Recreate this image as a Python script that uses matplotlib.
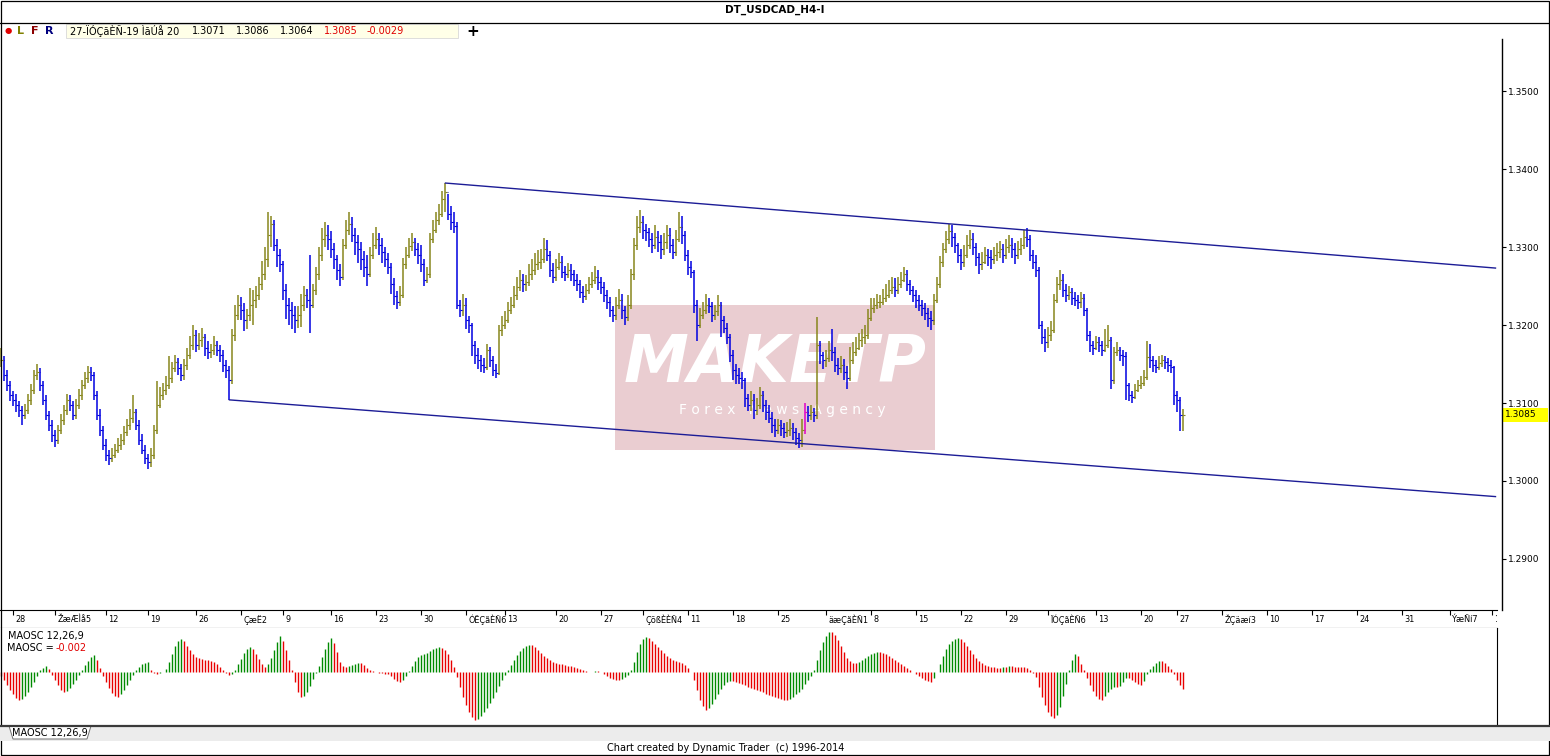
import numpy as np
import matplotlib
matplotlib.use("Agg")
import matplotlib.pyplot as plt
from matplotlib.patches import Rectangle, Polygon
from matplotlib.transforms import blended_transform_factory

W, H = 1550, 756
plt.rcParams["font.family"] = ["DejaVu Sans"]

title = "DT_USDCAD_H4-I"
bar_info = "27-ÏÓÇãÈÑ-19 ÌãÚå 20"
last_ohlc = ["1.3071", "1.3086", "1.3064", "1.3085"]
last_change = "-0.0029"
maosc_name = "MAOSC 12,26,9"
maosc_last = "-0.002"
footer = "Chart created by Dynamic Trader  (c) 1996-2014"

price_ticks = [1.29, 1.30, 1.31, 1.32, 1.33, 1.34, 1.35]
last_price = 1.3085

week_labels = ["28", "ŽæÆÌå5", "12", "19", "26", "ÇæË2", "9", "16", "23", "30",
               "ÓËÇãÈÑ6", "13", "20", "27", "ÇõßÈÈÑ4", "11", "18", "25",
               "äæÇãÈÑ1", "8", "15", "22", "29", "ÏÓÇãÈÑ6", "13", "20", "27",
               "ŽÇäæí3", "10", "17", "24", "31", "ÝæÑí7", "14"]
week_start_bar = [4, 18, 35, 49, 65, 80, 94, 110, 125, 140, 155, 168, 185, 200,
                  214, 229, 244, 259, 275, 290, 305, 320, 335, 349, 365, 380,
                  392, 407, 422, 437, 452, 467, 483, 497]

bar_close = [
    1.3155, 1.3136, 1.3123, 1.3110, 1.3104, 1.3098, 1.3091, 1.3085, 1.3091, 1.3104,
    1.3117, 1.3136, 1.3140, 1.3123, 1.3104, 1.3085, 1.3072, 1.3059, 1.3053, 1.3065,
    1.3078, 1.3091, 1.3104, 1.3098, 1.3085, 1.3098, 1.3110, 1.3123, 1.3132, 1.3140,
    1.3136, 1.3110, 1.3085, 1.3065, 1.3046, 1.3033, 1.3029, 1.3033, 1.3040, 1.3046,
    1.3053, 1.3063, 1.3072, 1.3081, 1.3089, 1.3072, 1.3053, 1.3040, 1.3029, 1.3024,
    1.3033, 1.3065, 1.3098, 1.3110, 1.3117, 1.3123, 1.3132, 1.3145, 1.3153, 1.3145,
    1.3136, 1.3149, 1.3162, 1.3175, 1.3187, 1.3175, 1.3181, 1.3184, 1.3171, 1.3166,
    1.3168, 1.3175, 1.3168, 1.3162, 1.3149, 1.3142, 1.3129, 1.3187, 1.3213, 1.3226,
    1.3219, 1.3206, 1.3213, 1.3226, 1.3232, 1.3239, 1.3252, 1.3265, 1.3284, 1.3316,
    1.3329, 1.3303, 1.3290, 1.3278, 1.3245, 1.3226, 1.3219, 1.3213, 1.3206, 1.3213,
    1.3226, 1.3239, 1.3232, 1.3226, 1.3245, 1.3265, 1.3290, 1.3310, 1.3316, 1.3310,
    1.3297, 1.3284, 1.3271, 1.3262, 1.3303, 1.3322, 1.3329, 1.3316, 1.3306, 1.3297,
    1.3284, 1.3275, 1.3265, 1.3290, 1.3303, 1.3310, 1.3303, 1.3293, 1.3284, 1.3275,
    1.3252, 1.3237, 1.3229, 1.3239, 1.3278, 1.3290, 1.3301, 1.3306, 1.3297, 1.3290,
    1.3278, 1.3258, 1.3265, 1.3310, 1.3322, 1.3335, 1.3342, 1.3361, 1.3370, 1.3342,
    1.3332, 1.3327, 1.3226, 1.3219, 1.3226, 1.3206, 1.3200, 1.3174, 1.3162, 1.3155,
    1.3149, 1.3146, 1.3168, 1.3155, 1.3142, 1.3138, 1.3194, 1.3200, 1.3206, 1.3219,
    1.3226, 1.3239, 1.3249, 1.3258, 1.3252, 1.3255, 1.3265, 1.3271, 1.3278, 1.3281,
    1.3284, 1.3297, 1.3290, 1.3271, 1.3262, 1.3275, 1.3281, 1.3268, 1.3265, 1.3271,
    1.3265, 1.3258, 1.3252, 1.3242, 1.3237, 1.3245, 1.3252, 1.3258, 1.3262, 1.3255,
    1.3249, 1.3239, 1.3229, 1.3219, 1.3213, 1.3226, 1.3232, 1.3219, 1.3210, 1.3226,
    1.3265, 1.3303, 1.3326, 1.3332, 1.3322, 1.3319, 1.3310, 1.3303, 1.3313, 1.3306,
    1.3297, 1.3306, 1.3316, 1.3303, 1.3293, 1.3310, 1.3326, 1.3316, 1.3290, 1.3275,
    1.3268, 1.3226, 1.3200, 1.3213, 1.3219, 1.3226, 1.3224, 1.3213, 1.3218, 1.3226,
    1.3206, 1.3196, 1.3184, 1.3162, 1.3142, 1.3136, 1.3132, 1.3129, 1.3106, 1.3097,
    1.3104, 1.3091, 1.3098, 1.3110, 1.3098, 1.3089, 1.3081, 1.3072, 1.3065, 1.3072,
    1.3068, 1.3063, 1.3065, 1.3068, 1.3063, 1.3055, 1.3053, 1.3065, 1.3088, 1.3085,
    1.3089, 1.3085, 1.3175, 1.3162, 1.3155, 1.3158, 1.3168, 1.3166, 1.3149, 1.3145,
    1.3149, 1.3140, 1.3132, 1.3155, 1.3166, 1.3171, 1.3181, 1.3184, 1.3187, 1.3209,
    1.3222, 1.3226, 1.3229, 1.3230, 1.3235, 1.3239, 1.3245, 1.3249, 1.3245, 1.3252,
    1.3258, 1.3265, 1.3252, 1.3245, 1.3239, 1.3232, 1.3226, 1.3222, 1.3216, 1.3209,
    1.3206, 1.3232, 1.3252, 1.3281, 1.3297, 1.3310, 1.3320, 1.3313, 1.3303, 1.3290,
    1.3281, 1.3290, 1.3303, 1.3310, 1.3300, 1.3287, 1.3278, 1.3281, 1.3290, 1.3287,
    1.3284, 1.3290, 1.3294, 1.3297, 1.3290, 1.3300, 1.3303, 1.3297, 1.3290, 1.3297,
    1.3303, 1.3313, 1.3310, 1.3290, 1.3281, 1.3271, 1.3200, 1.3184, 1.3178, 1.3187,
    1.3194, 1.3232, 1.3252, 1.3258, 1.3245, 1.3239, 1.3242, 1.3235, 1.3232, 1.3229,
    1.3235, 1.3219, 1.3187, 1.3175, 1.3171, 1.3178, 1.3175, 1.3168, 1.3175, 1.3181,
    1.3130, 1.3165, 1.3168, 1.3162, 1.3160, 1.3123, 1.3110, 1.3108, 1.3117, 1.3123,
    1.3126, 1.3133, 1.3159, 1.3155, 1.3149, 1.3146, 1.3151, 1.3155, 1.3153, 1.3149,
    1.3146, 1.3110, 1.3104, 1.3085, 1.3085,
]

bar_high = [
    1.3170, 1.3160, 1.3142, 1.3128, 1.3116, 1.3112, 1.3102, 1.3096, 1.3099, 1.3112,
    1.3124, 1.3142, 1.3150, 1.3145, 1.3128, 1.3110, 1.3090, 1.3078, 1.3065, 1.3072,
    1.3086, 1.3098, 1.3112, 1.3110, 1.3102, 1.3105, 1.3118, 1.3130, 1.3140, 1.3148,
    1.3146, 1.3140, 1.3115, 1.3092, 1.3070, 1.3054, 1.3040, 1.3042, 1.3048, 1.3055,
    1.3060, 1.3070, 1.3080, 1.3092, 1.3110, 1.3092, 1.3078, 1.3060, 1.3046, 1.3034,
    1.3042, 1.3072, 1.3128, 1.3120, 1.3126, 1.3135, 1.3160, 1.3152, 1.3162, 1.3158,
    1.3150, 1.3156, 1.3170, 1.3186, 1.3200, 1.3194, 1.3190, 1.3196, 1.3188, 1.3180,
    1.3176, 1.3186, 1.3180, 1.3175, 1.3168, 1.3155, 1.3148, 1.3195, 1.3226, 1.3238,
    1.3236, 1.3228, 1.3220, 1.3248, 1.3245, 1.3250, 1.3262, 1.3282, 1.3300, 1.3345,
    1.3340, 1.3335, 1.3310, 1.3298, 1.3282, 1.3252, 1.3235, 1.3230, 1.3224, 1.3225,
    1.3240, 1.3250, 1.3246, 1.3290, 1.3252, 1.3275, 1.3300, 1.3325, 1.3332, 1.3328,
    1.3320, 1.3305, 1.3290, 1.3278, 1.3310, 1.3335, 1.3345, 1.3338, 1.3325, 1.3316,
    1.3306, 1.3295, 1.3290, 1.3300, 1.3318, 1.3326, 1.3318, 1.3312, 1.3300, 1.3292,
    1.3280, 1.3260, 1.3244, 1.3250, 1.3286, 1.3300, 1.3312, 1.3318, 1.3312, 1.3305,
    1.3302, 1.3284, 1.3275, 1.3318, 1.3335, 1.3345, 1.3355, 1.3372, 1.3382, 1.3368,
    1.3352, 1.3345, 1.3332, 1.3232, 1.3240, 1.3235, 1.3212, 1.3202, 1.3180, 1.3170,
    1.3162, 1.3158, 1.3176, 1.3172, 1.3160, 1.3150, 1.3200, 1.3212, 1.3218, 1.3230,
    1.3236, 1.3250, 1.3262, 1.3270, 1.3266, 1.3264, 1.3278, 1.3285, 1.3292, 1.3296,
    1.3298, 1.3312, 1.3309, 1.3295, 1.3280, 1.3284, 1.3292, 1.3288, 1.3276, 1.3280,
    1.3278, 1.3270, 1.3265, 1.3258, 1.3250, 1.3252, 1.3262, 1.3268, 1.3276, 1.3270,
    1.3262, 1.3255, 1.3245, 1.3236, 1.3225, 1.3236, 1.3246, 1.3240, 1.3225, 1.3238,
    1.3272, 1.3312, 1.3340, 1.3348, 1.3340, 1.3330, 1.3325, 1.3318, 1.3328, 1.3320,
    1.3315, 1.3318, 1.3328, 1.3325, 1.3310, 1.3322, 1.3345, 1.3340, 1.3320, 1.3296,
    1.3282, 1.3270, 1.3232, 1.3222, 1.3230, 1.3240, 1.3234, 1.3230, 1.3226, 1.3238,
    1.3230, 1.3212, 1.3202, 1.3188, 1.3168, 1.3150, 1.3145, 1.3140, 1.3132, 1.3112,
    1.3115, 1.3112, 1.3106, 1.3120, 1.3116, 1.3104, 1.3098, 1.3088, 1.3080, 1.3080,
    1.3078, 1.3075, 1.3076, 1.3080, 1.3075, 1.3068, 1.3062, 1.3080, 1.3100, 1.3096,
    1.3098, 1.3094, 1.3210, 1.3180, 1.3166, 1.3168, 1.3180, 1.3195, 1.3172, 1.3158,
    1.3160, 1.3156, 1.3148, 1.3172, 1.3178, 1.3185, 1.3190, 1.3195, 1.3200, 1.3220,
    1.3235, 1.3234, 1.3240, 1.3238, 1.3246, 1.3252, 1.3258, 1.3262, 1.3260, 1.3262,
    1.3268, 1.3275, 1.3270, 1.3258, 1.3250, 1.3245, 1.3238, 1.3232, 1.3228, 1.3222,
    1.3218, 1.3240, 1.3262, 1.3288, 1.3305, 1.3320, 1.3330, 1.3328, 1.3318, 1.3305,
    1.3298, 1.3302, 1.3315, 1.3322, 1.3318, 1.3305, 1.3292, 1.3294, 1.3300, 1.3298,
    1.3296, 1.3300, 1.3305, 1.3308, 1.3304, 1.3310, 1.3315, 1.3312, 1.3305, 1.3308,
    1.3312, 1.3322, 1.3325, 1.3315, 1.3296, 1.3290, 1.3275, 1.3205, 1.3195, 1.3198,
    1.3205, 1.3240, 1.3262, 1.3270, 1.3265, 1.3252, 1.3250, 1.3248, 1.3242, 1.3238,
    1.3242, 1.3240, 1.3222, 1.3192, 1.3180, 1.3186, 1.3184, 1.3180, 1.3195, 1.3200,
    1.3185, 1.3172, 1.3178, 1.3172, 1.3168, 1.3165, 1.3126, 1.3115, 1.3125, 1.3130,
    1.3135, 1.3142, 1.3180, 1.3176, 1.3160, 1.3155, 1.3160, 1.3162, 1.3160, 1.3158,
    1.3155, 1.3148, 1.3115, 1.3108, 1.3092,
]

bar_low = [
    1.3146, 1.3128, 1.3115, 1.3102, 1.3096, 1.3088, 1.3082, 1.3072, 1.3080, 1.3086,
    1.3098, 1.3112, 1.3130, 1.3116, 1.3098, 1.3078, 1.3064, 1.3050, 1.3044, 1.3048,
    1.3060, 1.3072, 1.3085, 1.3090, 1.3078, 1.3080, 1.3092, 1.3104, 1.3118, 1.3126,
    1.3128, 1.3104, 1.3078, 1.3058, 1.3040, 1.3026, 1.3020, 1.3024, 1.3030, 1.3036,
    1.3040, 1.3046, 1.3058, 1.3066, 1.3075, 1.3065, 1.3046, 1.3034, 1.3022, 1.3016,
    1.3018, 1.3028, 1.3060, 1.3094, 1.3104, 1.3110, 1.3118, 1.3126, 1.3140, 1.3136,
    1.3128, 1.3130, 1.3142, 1.3156, 1.3168, 1.3166, 1.3168, 1.3172, 1.3160, 1.3156,
    1.3158, 1.3162, 1.3160, 1.3152, 1.3140, 1.3132, 1.3104, 1.3125, 1.3180, 1.3206,
    1.3206, 1.3192, 1.3195, 1.3205, 1.3200, 1.3222, 1.3232, 1.3245, 1.3258, 1.3275,
    1.3300, 1.3295, 1.3275, 1.3268, 1.3232, 1.3208, 1.3200, 1.3195, 1.3190, 1.3196,
    1.3198, 1.3218, 1.3222, 1.3190, 1.3222, 1.3238, 1.3258, 1.3282, 1.3300, 1.3296,
    1.3286, 1.3272, 1.3258, 1.3250, 1.3258, 1.3298, 1.3316, 1.3306, 1.3290, 1.3280,
    1.3270, 1.3262, 1.3250, 1.3262, 1.3285, 1.3298, 1.3290, 1.3280, 1.3274, 1.3266,
    1.3240, 1.3226, 1.3220, 1.3225, 1.3235, 1.3272, 1.3286, 1.3295, 1.3288, 1.3278,
    1.3268, 1.3250, 1.3254, 1.3260, 1.3305, 1.3318, 1.3328, 1.3338, 1.3345, 1.3334,
    1.3322, 1.3318, 1.3220, 1.3210, 1.3212, 1.3195, 1.3190, 1.3160, 1.3150, 1.3144,
    1.3140, 1.3138, 1.3142, 1.3146, 1.3135, 1.3132, 1.3136, 1.3186, 1.3195, 1.3202,
    1.3214, 1.3222, 1.3232, 1.3244, 1.3242, 1.3244, 1.3250, 1.3258, 1.3264, 1.3270,
    1.3272, 1.3280, 1.3282, 1.3262, 1.3254, 1.3256, 1.3270, 1.3260, 1.3256, 1.3260,
    1.3256, 1.3250, 1.3244, 1.3234, 1.3228, 1.3232, 1.3240, 1.3248, 1.3252, 1.3245,
    1.3240, 1.3230, 1.3220, 1.3210, 1.3204, 1.3206, 1.3220, 1.3208, 1.3200, 1.3205,
    1.3220, 1.3258, 1.3296, 1.3318, 1.3310, 1.3308, 1.3300, 1.3292, 1.3298, 1.3294,
    1.3285, 1.3290, 1.3298, 1.3292, 1.3284, 1.3288, 1.3306, 1.3304, 1.3282, 1.3264,
    1.3260, 1.3215, 1.3180, 1.3196, 1.3208, 1.3214, 1.3215, 1.3204, 1.3206, 1.3212,
    1.3185, 1.3190, 1.3176, 1.3152, 1.3130, 1.3124, 1.3124, 1.3118, 1.3095, 1.3090,
    1.3090, 1.3080, 1.3084, 1.3092, 1.3088, 1.3078, 1.3075, 1.3062, 1.3056, 1.3060,
    1.3058, 1.3055, 1.3056, 1.3058, 1.3052, 1.3046, 1.3042, 1.3044, 1.3060, 1.3076,
    1.3078, 1.3076, 1.3080, 1.3150, 1.3144, 1.3146, 1.3152, 1.3154, 1.3140, 1.3136,
    1.3138, 1.3130, 1.3118, 1.3128, 1.3150, 1.3160, 1.3168, 1.3172, 1.3176, 1.3182,
    1.3205, 1.3215, 1.3220, 1.3222, 1.3226, 1.3230, 1.3235, 1.3240, 1.3236, 1.3240,
    1.3248, 1.3255, 1.3244, 1.3238, 1.3230, 1.3222, 1.3218, 1.3212, 1.3206, 1.3198,
    1.3194, 1.3200, 1.3228, 1.3248, 1.3275, 1.3292, 1.3304, 1.3300, 1.3292, 1.3280,
    1.3270, 1.3275, 1.3286, 1.3298, 1.3290, 1.3276, 1.3266, 1.3270, 1.3278, 1.3276,
    1.3272, 1.3278, 1.3282, 1.3286, 1.3280, 1.3285, 1.3292, 1.3286, 1.3278, 1.3284,
    1.3290, 1.3298, 1.3300, 1.3282, 1.3272, 1.3262, 1.3195, 1.3176, 1.3165, 1.3170,
    1.3180, 1.3190, 1.3228, 1.3245, 1.3236, 1.3230, 1.3232, 1.3226, 1.3224, 1.3220,
    1.3222, 1.3212, 1.3180, 1.3166, 1.3162, 1.3168, 1.3166, 1.3160, 1.3165, 1.3170,
    1.3118, 1.3125, 1.3160, 1.3154, 1.3148, 1.3104, 1.3102, 1.3100, 1.3105, 1.3114,
    1.3118, 1.3122, 1.3130, 1.3145, 1.3140, 1.3138, 1.3142, 1.3146, 1.3144, 1.3140,
    1.3138, 1.3098, 1.3088, 1.3064, 1.3064,
]

# MA oscillator, in pips (0.0001)
maosc_pips = [
    -4, -8, -13, -18, -22, -26, -28, -27, -24, -20,
    -15, -10, -4, 2, 4, 6, 3, -3, -8, -13,
    -18, -20, -19, -16, -12, -8, -3, 2, 7, 11,
    15, 17, 12, 4, -4, -10, -16, -21, -24, -25,
    -22, -18, -13, -8, -3, 2, 5, 8, 9, 10,
    2, -1, -2, -1, 0, 3, 10, 18, 26, 31,
    33, 31, 26, 22, 18, 15, 14, 13, 12, 12,
    11, 10, 8, 5, 2, -1, -3, -2, 2, 8,
    13, 19, 23, 25, 23, 18, 13, 8, 5, 8,
    14, 22, 30, 36, 31, 22, 12, 2, -10, -20,
    -25, -24, -20, -14, -7, -1, 6, 15, 23, 30,
    34, 29, 20, 10, 6, 5, 6, 7, 8, 9,
    9, 7, 4, 2, 1, 0, -1, -1, -2, -2,
    -4, -7, -9, -10, -8, -4, 1, 6, 11, 15,
    17, 18, 19, 21, 23, 24, 25, 24, 22, 18,
    12, 5, -5, -15, -25, -33, -40, -45, -48, -47,
    -44, -40, -36, -31, -26, -20, -14, -8, -3, 2,
    7, 12, 17, 21, 24, 26, 27, 27, 25, 22,
    19, 16, 14, 12, 10, 9, 8, 8, 7, 6,
    6, 5, 4, 3, 2, 1, 0, 0, 1, 1,
    0, -2, -4, -6, -7, -8, -8, -7, -5, -3,
    2, 10, 20, 28, 33, 35, 34, 31, 28, 25,
    22, 19, 16, 14, 12, 11, 10, 9, 7, 4,
    0, -8, -18, -28, -34, -38, -36, -32, -27, -22,
    -17, -13, -10, -9, -9, -10, -11, -12, -13, -15,
    -16, -17, -18, -19, -20, -22, -23, -24, -25, -26,
    -27, -28, -28, -27, -25, -22, -20, -17, -12, -8,
    -4, 2, 12, 22, 30, 36, 40, 40, 37, 32,
    26, 20, 14, 11, 9, 9, 10, 12, 14, 16,
    18, 19, 20, 20, 19, 18, 16, 14, 12, 10,
    8, 6, 4, 2, 0, -2, -4, -6, -8, -9,
    -10, -6, 0, 8, 16, 23, 28, 31, 33, 34,
    33, 30, 26, 22, 18, 14, 11, 9, 7, 6,
    5, 5, 4, 4, 5, 5, 6, 6, 5, 5,
    5, 5, 4, 2, -1, -5, -15, -25, -33, -40,
    -44, -46, -43, -35, -24, -12, 2, 12, 18, 16,
    8, 2, -6, -13, -19, -24, -27, -28, -24, -20,
    -17, -15, -15, -14, -10, -6, -6, -8, -10, -12,
    -13, -9, -2, 3, 6, 9, 11, 11, 9, 6,
    3, -2, -8, -13, -17,
]

highlight_bar = 268

upper_channel_bar = [148, 498]
upper_channel_price = [1.3382, 1.3273]
lower_channel_bar = [76, 498]
lower_channel_price = [1.3104, 1.2980]


def px_axes(fig, x0, y0, x1, y1, z):
    # axes placed by pixel box (top-left origin)
    return fig.add_axes([x0 / W, 1 - y1 / H, (x1 - x0) / W, (y1 - y0) / H], zorder=z)


fig = plt.figure(figsize=(W / 100, H / 100), dpi=100)
fig.patch.set_facecolor("white")

# watermark underneath the bars
back = px_axes(fig, 0, 0, W, H, 0)
back.set_xlim(0, W)
back.set_ylim(H, 0)
back.axis("off")
back.add_patch(Rectangle((615, 305), 320, 145, fc="#eacdd1", ec="none"))
back.text(775, 364, "MAKETP", color="white", fontsize=47, fontweight="bold",
          fontstyle="italic", family=["Liberation Sans Narrow", "DejaVu Sans"],
          ha="center", va="center")
back.text(782, 410, "F o r e x   N e w s   A g e n c y", color="white",
          fontsize=10, ha="center", va="center")

# price panel
ax = px_axes(fig, 0, 39, 1502, 610, 1)
ax.patch.set_alpha(0)
idx = np.arange(len(bar_close))
bar_open = [bar_close[0]] + bar_close[:-1]
colors = []
for i in idx:
    if i == highlight_bar:
        colors.append("#e000c8")
    elif bar_close[i] >= bar_open[i]:
        colors.append("#87861c")
    else:
        colors.append("#0000e0")
ax.vlines(idx, bar_low, bar_high, colors=colors, lw=1.1)
ax.hlines(bar_open, idx - 0.6, idx, colors=colors, lw=0.8)
ax.hlines(bar_close, idx, idx + 0.6, colors=colors, lw=0.8)
ax.plot(upper_channel_bar, upper_channel_price, color="#1c1c96", lw=1.0)
ax.plot(lower_channel_bar, lower_channel_price, color="#1c1c96", lw=1.0)

ax.set_xlim(-0.5, 500.17)
ax.set_ylim(1.28346, 1.35667)
ax.set_xticks([])
ax.yaxis.tick_right()
ax.set_yticks(price_ticks)
ax.set_yticklabels([f"{p:.4f}" for p in price_ticks])
ax.tick_params(axis="y", direction="out", length=3, width=0.8, pad=1.5,
               labelsize=6.5, colors="black")
for side in ["left", "top", "bottom"]:
    ax.spines[side].set_visible(False)
ax.spines["right"].set_linewidth(1.0)

blend = blended_transform_factory(ax.transAxes, ax.transData)
ax.add_patch(Rectangle((1.0, last_price - 0.0009), 46 / 1502, 0.0018,
                       transform=blend, fc="#ffff00", ec="none", clip_on=False))
ax.text(1.0 + 3 / 1502, last_price, f"{last_price:.4f}", transform=blend,
        fontsize=6.5, va="center", ha="left", clip_on=False)

# date strip
strip = px_axes(fig, 0, 610, 1497, 628, 2)
strip.set_xlim(-0.5, 498.5)
strip.set_ylim(18, 0)
strip.set_xticks([])
strip.set_yticks([])
strip.spines["left"].set_visible(False)
strip.spines["right"].set_visible(False)
strip.vlines(week_start_bar, 0, 5, color="black", lw=0.8)
for b, lab in zip(week_start_bar, week_labels):
    strip.text(b + 0.6, 10, lab, fontsize=5.9, va="center", ha="left", clip_on=True)

# oscillator panel
osc = px_axes(fig, 0, 628, 1497, 725, 2)
osc.set_xlim(-0.5, 498.5)
osc.set_ylim(-53, 44)
osc_colors = []
for i in idx:
    prev = maosc_pips[i - 1] if i > 0 else maosc_pips[0]
    osc_colors.append("#008a00" if maosc_pips[i] > prev else "#e80000")
osc.vlines(idx, 0, maosc_pips, colors=osc_colors, lw=1.0)
osc.set_xticks([])
osc.set_yticks([])
osc.spines["left"].set_visible(False)
osc.spines["top"].set_visible(False)
osc.spines["bottom"].set_visible(False)

# window chrome
ov = px_axes(fig, 0, 0, W, H, 5)
ov.set_xlim(0, W)
ov.set_ylim(H, 0)
ov.axis("off")
ov.add_patch(Rectangle((0.5, 0.5), W - 1.5, H - 1.5, fill=False, ec="black", lw=0.9))
ov.plot([0, W], [22.5, 22.5], color="black", lw=0.9)
ov.text(775, 10, title, fontsize=7.5, fontweight="bold", ha="center", va="center")

ov.text(8, 31, "●", color="#e00000", fontsize=6, ha="center", va="center")
ov.text(21, 31, "L", color="#808000", fontsize=8, fontweight="bold", ha="center", va="center")
ov.text(35, 31, "F", color="#8b0000", fontsize=8, fontweight="bold", ha="center", va="center")
ov.text(49, 31, "R", color="#00007f", fontsize=8, fontweight="bold", ha="center", va="center")
ov.add_patch(Rectangle((66, 24), 392, 14, fc="#ffffe8", ec="#d8d8d8", lw=0.6))
ov.text(70, 31, bar_info, fontsize=7, va="center", ha="left")
for xp, val in zip([192, 236, 280], last_ohlc[:3]):
    ov.text(xp, 31, val, fontsize=7, va="center", ha="left")
ov.text(324, 31, last_ohlc[3], fontsize=7, va="center", ha="left", color="#e00000")
ov.text(367, 31, last_change, fontsize=7, va="center", ha="left", color="#e00000")
ov.text(473, 31, "+", fontsize=11, fontweight="bold", va="center", ha="center")

ov.text(8, 636, maosc_name, fontsize=7, va="center", ha="left")
ov.text(7, 648, "MAOSC =", fontsize=7, va="center", ha="left")
ov.text(56, 648, maosc_last, fontsize=7, va="center", ha="left", color="#e00000")

ov.add_patch(Rectangle((0, 726), W, 15, fc="#ececec", ec="none"))
ov.plot([0, W], [725.5, 725.5], color="#3a3a3a", lw=1.6)
ov.add_patch(Polygon([(9, 726), (91, 726), (87, 739), (13, 739)], closed=True,
                     fc="white", ec="#707070", lw=0.7))
ov.text(50, 733, maosc_name, fontsize=7, va="center", ha="center")
ov.text(726, 748, footer, fontsize=7, va="center", ha="center")

fig.savefig("out.png", dpi=100)
